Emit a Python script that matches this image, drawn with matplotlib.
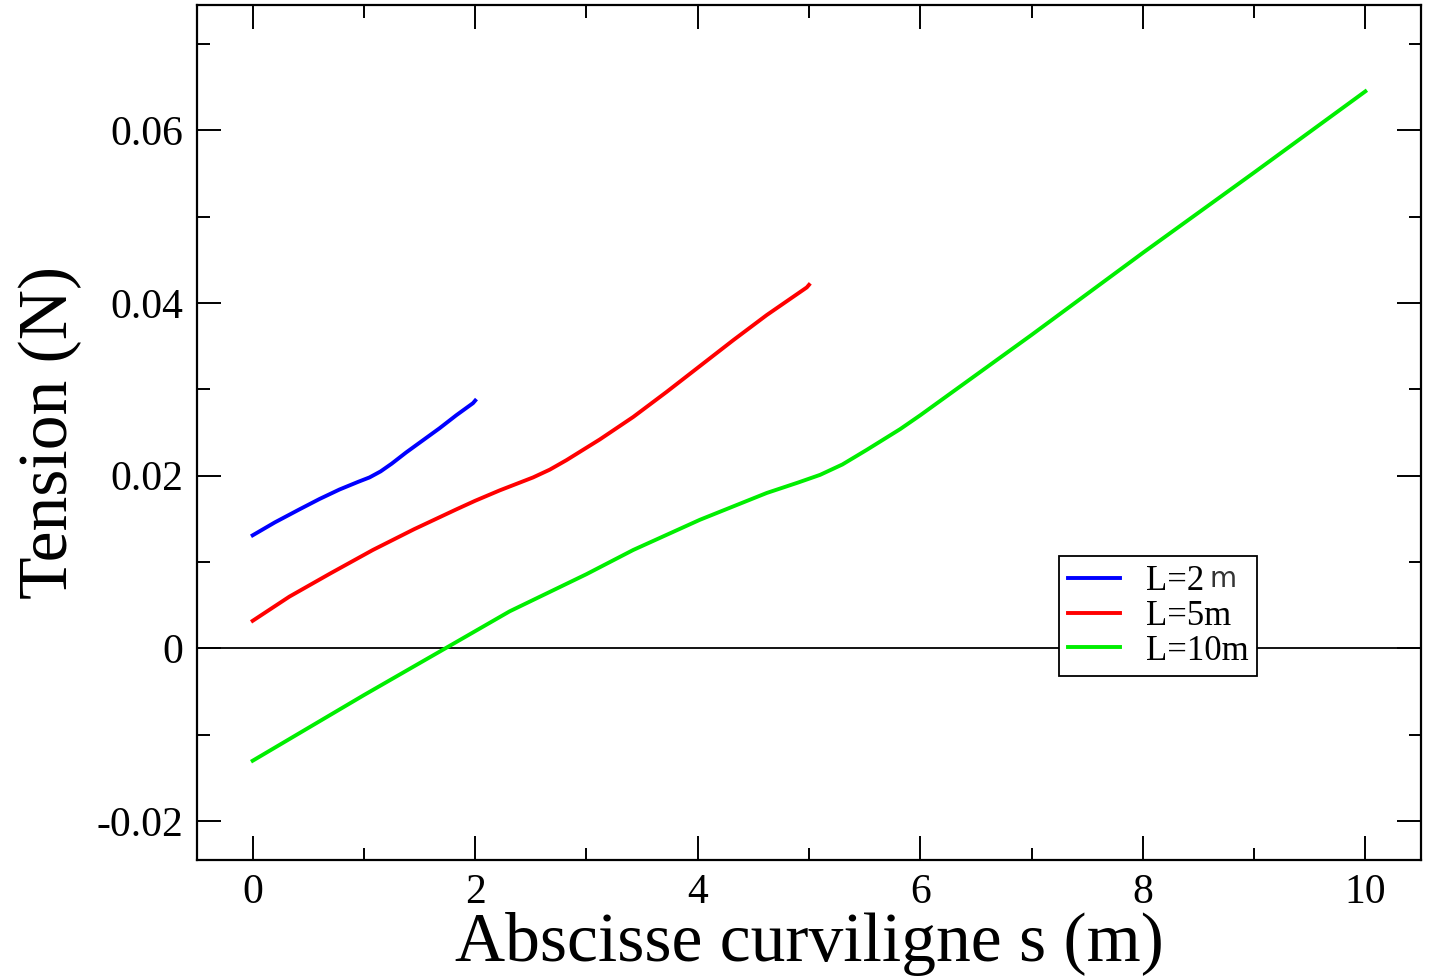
import matplotlib
matplotlib.use("Agg")
import matplotlib.pyplot as plt
from matplotlib.ticker import MultipleLocator, FuncFormatter

# values
s_2 = [0.0, 0.2, 0.42, 0.6, 0.78, 0.95, 1.05, 1.15, 1.25, 1.38, 1.53, 1.68, 1.83, 1.98, 2.0]
t_2 = [0.0131, 0.0146, 0.0161, 0.0173, 0.0184, 0.0193, 0.0198, 0.0205, 0.0214, 0.0227, 0.0241, 0.0255, 0.0270, 0.0284, 0.0287]

s_5 = [0.0, 0.33, 0.7, 1.08, 1.45, 1.83, 2.0, 2.22, 2.4, 2.52, 2.67, 2.82, 3.12, 3.42, 3.72, 4.02, 4.32, 4.62, 4.98, 5.0]
t_5 = [0.0032, 0.0060, 0.0087, 0.0114, 0.0138, 0.0161, 0.0171, 0.0183, 0.0192, 0.0198, 0.0207, 0.0218, 0.0242, 0.0268, 0.0297, 0.0327, 0.0357, 0.0386, 0.0418, 0.0421]

s_10 = [0.0, 1.0, 1.73, 2.31, 3.0, 3.42, 4.02, 4.62, 4.9, 5.1, 5.3, 5.52, 5.82, 6.0, 7.0, 8.0, 9.0, 10.0]
t_10 = [-0.0130, -0.0054, 0.0, 0.0043, 0.0086, 0.0114, 0.0149, 0.0180, 0.0192, 0.0201, 0.0213, 0.0230, 0.0254, 0.0270, 0.0363, 0.0458, 0.0551, 0.0645]

plt.rcParams["font.family"] = ["Liberation Serif", "DejaVu Serif"]

fig = plt.figure(figsize=(14.32, 9.8), dpi=100)
ax = fig.add_axes([0.1376, 0.1224, 0.8547, 0.8725])

ax.axhline(0, color="black", lw=1.3, zorder=1)
ax.plot(s_2, t_2, color="#0000ff", lw=2.8, label="L=2", solid_joinstyle="round")
ax.plot(s_5, t_5, color="#ff0000", lw=2.8, label="L=5m", solid_joinstyle="round")
ax.plot(s_10, t_10, color="#00ee00", lw=2.8, label="L=10m", solid_joinstyle="round")

ax.set_xlim(-0.5, 10.5)
ax.set_ylim(-0.0245, 0.0745)
ax.xaxis.set_major_locator(MultipleLocator(2))
ax.xaxis.set_minor_locator(MultipleLocator(1))
ax.yaxis.set_major_locator(MultipleLocator(0.02))
ax.yaxis.set_minor_locator(MultipleLocator(0.01))
ax.yaxis.set_major_formatter(FuncFormatter(lambda v, p: "%g" % round(v, 4)))

ax.tick_params(which="both", direction="in", top=True, right=True, width=1.4)
ax.tick_params(which="major", length=17, labelsize=30, pad=10)
ax.tick_params(which="minor", length=9)
for sp in ax.spines.values():
    sp.set_linewidth(1.6)

ax.set_xlabel("Abscisse curviligne s (m)", fontsize=50, labelpad=0)
ax.set_ylabel("Tension (N)", fontsize=50, labelpad=10)

leg = ax.legend(loc="lower right", bbox_to_anchor=(0.866, 0.215), fontsize=25,
                frameon=True, fancybox=False, edgecolor="black", framealpha=1,
                handlelength=1.5, handletextpad=0.75, borderpad=0.25,
                labelspacing=0.05, borderaxespad=0)
leg.get_frame().set_linewidth(1.3)

# the odd sans-serif "m" after L=2 in the legend
fig.canvas.draw()
bb = leg.get_texts()[0].get_window_extent()
fig.text(bb.x1 / fig.bbox.width + 0.004, bb.y1 / fig.bbox.height, "m",
         fontsize=20, family="DejaVu Sans", color="#333333", va="top")

fig.savefig("out.png", dpi=100)
